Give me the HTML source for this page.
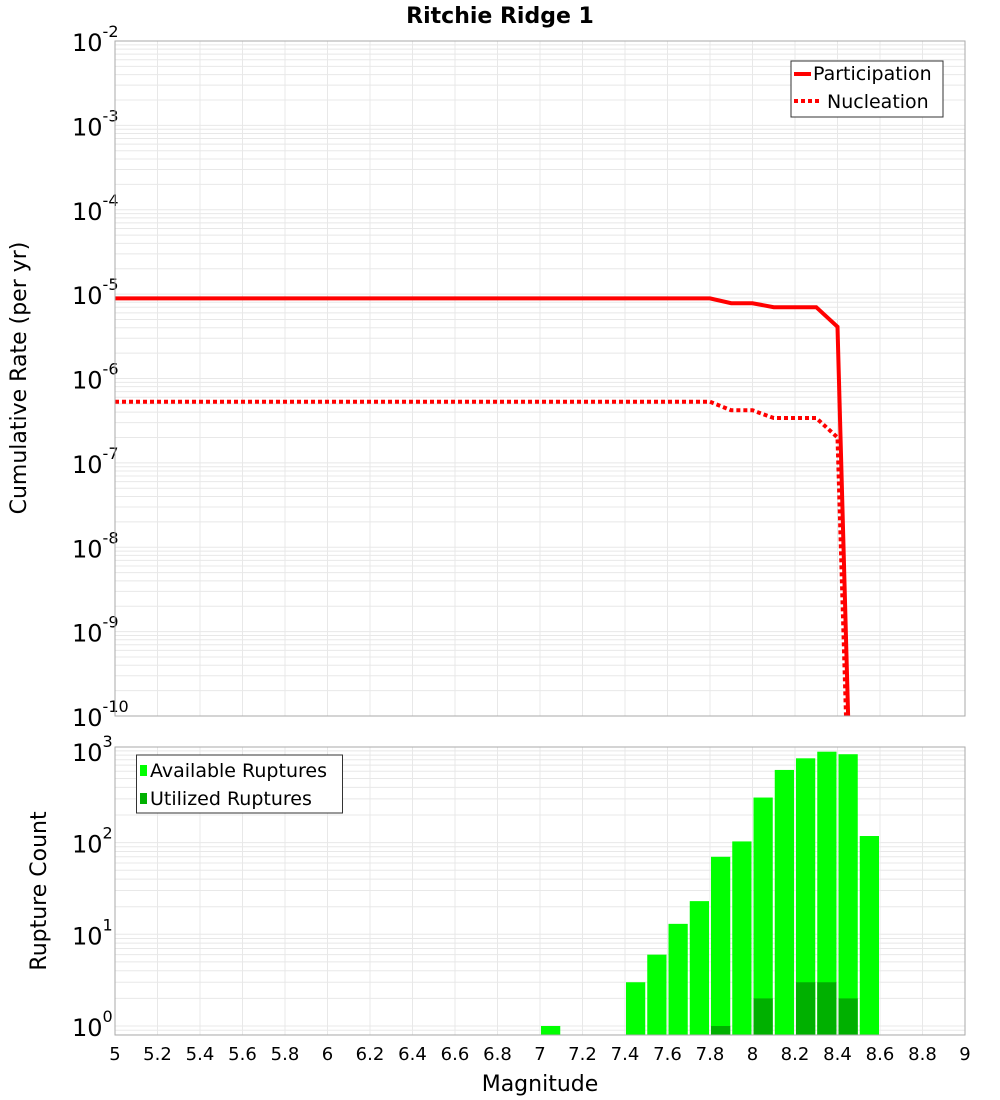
<!DOCTYPE html>
<html><head><meta charset="utf-8"><style>
body{margin:0;background:#fff}
svg{display:block;font-family:"DejaVu Sans","Liberation Sans",sans-serif}
</style></head><body>
<svg id="chart" width="1000" height="1100" xmlns="http://www.w3.org/2000/svg">
<text x="500" y="23" text-anchor="middle" font-size="22" font-weight="bold">Ritchie Ridge 1</text>
<g id="topplot"></g>
<g id="botplot"></g>
<text transform="translate(26,378) rotate(-90)" text-anchor="middle" font-size="22">Cumulative Rate (per yr)</text>
<text transform="translate(46,891) rotate(-90)" text-anchor="middle" font-size="22">Rupture Count</text>
<text x="540" y="1091" text-anchor="middle" font-size="22">Magnitude</text>
</svg>
<script>
const xTicks=[5,5.2,5.4,5.6,5.8,6,6.2,6.4,6.6,6.8,7,7.2,7.4,7.6,7.8,8,8.2,8.4,8.6,8.8,9];
const partMag=[5,7.8,7.9,8.0,8.1,8.2,8.3,8.4,8.45];
const partRate=[8.9e-6,8.9e-6,7.8e-6,7.8e-6,7.0e-6,7.0e-6,7.0e-6,4.1e-6,1e-10];
const nuclMag=[5,7.8,7.9,8.0,8.1,8.2,8.3,8.4,8.44];
const nuclRate=[5.3e-7,5.3e-7,4.2e-7,4.2e-7,3.4e-7,3.4e-7,3.4e-7,2.0e-7,1e-10];
const binMag=[7.0,7.4,7.5,7.6,7.7,7.8,7.9,8.0,8.1,8.2,8.3,8.4,8.5];
const availCount=[1,3,6,13,23,70,103,310,620,830,980,920,118];
const utilCount=[0,0,0,0,0,1,0,2,0,3,3,2,0];
const NS='http://www.w3.org/2000/svg';
const L=115,R=965;
const X=m=>L+(m-5)/4*(R-L);
const T0=41,T1=716,B0=747,B1=1035;
const yT=v=>T0+(-2-Math.log10(v))/8*(T1-T0);
const yB=v=>1026-Math.log10(v)*91.7;
function mk(tag,attrs,parent){const e=document.createElementNS(NS,tag);for(const k in attrs)e.setAttribute(k,attrs[k]);parent.appendChild(e);return e;}
const gTop=document.getElementById('topplot'),gBot=document.getElementById('botplot');
for(let d=-10;d<-2;d++){for(let k=1;k<10;k++){const y=yT(k*Math.pow(10,d));const l=mk('line',{x1:L,x2:R,y1:y,y2:y,stroke:'#e8e8e8','stroke-width':1},gTop);}}
for(const t of xTicks){for(const g of [gTop,gBot]){const y1=g===gTop?T0:B0,y2=g===gTop?T1:B1;const l=mk('line',{x1:X(t),x2:X(t),y1:y1,y2:y2,stroke:'#e8e8e8','stroke-width':1},g);}}
for(let d=-1;d<4;d++){for(let k=1;k<10;k++){const v=k*Math.pow(10,d);const y=yB(v);if(y<B0||y>B1)continue;const l=mk('line',{x1:L,x2:R,y1:y,y2:y,stroke:'#e8e8e8','stroke-width':1},gBot);}}
for(let d=-10;d<=-2;d++){const y=yT(Math.pow(10,d));const t=mk('text',{x:72,y:y+10,'font-size':24},gTop);t.textContent='10';const s=mk('tspan',{dy:-14,'font-size':16},t);s.textContent=String(d);}
for(let d=0;d<=3;d++){const y=yB(Math.pow(10,d));const t=mk('text',{x:72,y:y+10,'font-size':24},gBot);t.textContent='10';const s=mk('tspan',{dy:-14,'font-size':16},t);s.textContent=String(d);}
const pp=partMag.map((m,i)=>X(m)+','+Math.min(yT(partRate[i]),T1+2)).join(' ');
const p1=mk('polyline',{points:pp,fill:'none',stroke:'#ff0000','stroke-width':4},gTop);


const np=nuclMag.map((m,i)=>X(m)+','+Math.min(yT(nuclRate[i]),T1+2)).join(' ');
const p2=mk('polyline',{points:np,fill:'none',stroke:'#ff0000','stroke-width':4,'stroke-dasharray':'4 3'},gTop);


binMag.forEach((m,i)=>{const x0=X(m)+1,w=X(m+0.1)-X(m)-2;const y=yB(availCount[i]);const r=mk('rect',{x:x0,y:y,width:w,height:B1-y,fill:'#00ff00'},gBot);


if(utilCount[i]>0){const yu=yB(utilCount[i]);const u=mk('rect',{x:x0,y:yu,width:w,height:B1-yu,fill:'#00b000'},gBot);

}});
for(const [g,a,b] of [[gTop,T0,T1],[gBot,B0,B1]]){const f=mk('rect',{x:L,y:a,width:R-L,height:b-a,fill:'none',stroke:'#aaaaaa','stroke-width':1},g);}
for(const t of xTicks){const e=mk('text',{x:X(t),y:1060,'text-anchor':'middle','font-size':18},gBot);e.textContent=String(t);}
const lg=mk('g',{},gTop);


mk('rect',{x:791,y:61,width:152,height:56,fill:'#fff',stroke:'#333','stroke-width':1},lg);
mk('line',{x1:794,x2:811,y1:74,y2:74,stroke:'#f00','stroke-width':4},lg);
mk('line',{x1:794,x2:821,y1:101,y2:101,stroke:'#f00','stroke-width':4,'stroke-dasharray':'4 3'},lg);
let t1=mk('text',{x:813,y:80,'font-size':19},lg);t1.textContent='Participation';


let t2=mk('text',{x:827,y:108,'font-size':19},lg);t2.textContent='Nucleation';


const lb=mk('g',{},gBot);


mk('rect',{x:136.5,y:755,width:206,height:58,fill:'#fff',stroke:'#333','stroke-width':1},lb);
mk('rect',{x:140,y:765,width:7,height:11,fill:'#00ff00'},lb);
mk('rect',{x:140,y:793,width:7,height:11,fill:'#00b000'},lb);
let t3=mk('text',{x:150,y:777,'font-size':19},lb);t3.textContent='Available Ruptures';


let t4=mk('text',{x:150,y:805,'font-size':19},lb);t4.textContent='Utilized Ruptures';


</script>
</body></html>
